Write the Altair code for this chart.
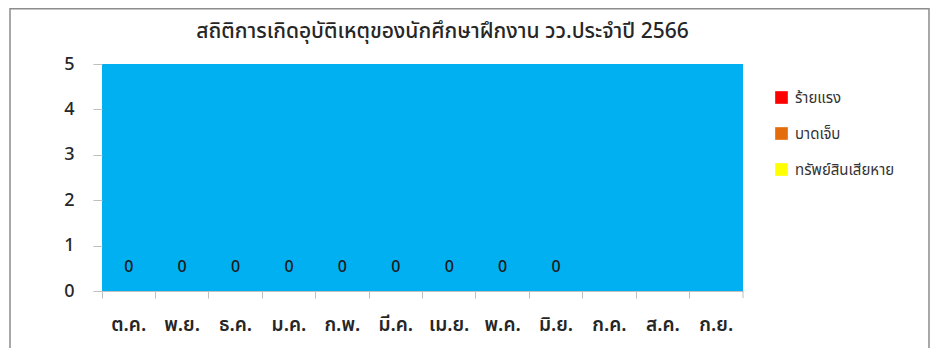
import altair as alt
import pandas as pd

months = ["ต.ค.", "พ.ย.", "ธ.ค.", "ม.ค.", "ก.พ.", "มี.ค.", "เม.ย.", "พ.ค.", "มิ.ย.", "ก.ค.", "ส.ค.", "ก.ย."]
series_names = ["ร้ายแรง", "บาดเจ็บ", "ทรัพย์สินเสียหาย"]
series_colors = ["#FF0000", "#E46C0A", "#FFFF00"]
severe = [0, 0, 0, 0, 0, 0, 0, 0, 0, None, None, None]
injured = [0, 0, 0, 0, 0, 0, 0, 0, 0, None, None, None]
damage = [0, 0, 0, 0, 0, 0, 0, 0, 0, None, None, None]
y_ticks = [0, 1, 2, 3, 4, 5]
title_text = "สถิติการเกิดอุบัติเหตุของนักศึกษาฝึกงาน วว.ประจำปี 2566"

FONT = "Noto Sans Thai, Tahoma, Leelawadee UI, Loma, Garuda, Noto Sans, sans-serif"
W, H = 641, 227

rows = []
for name, vals in zip(series_names, [severe, injured, damage]):
    for m, v in zip(months, vals):
        if v is not None:
            rows.append({"month": m, "series": name, "value": v})
df = pd.DataFrame(rows)

totals = []
for i, m in enumerate(months):
    vals = [s[i] for s in (severe, injured, damage)]
    if all(v is not None for v in vals):
        totals.append({"month": m, "total": sum(vals)})
tdf = pd.DataFrame(totals)

one = alt.Data(values=[{"t": title_text}])

xenc = alt.X("month:N", sort=months, title=None,
             scale=alt.Scale(domain=months, paddingInner=0, paddingOuter=0),
             axis=alt.Axis(labelAngle=0, bandPosition=0, tickSize=7, tickColor="#BFBFBF",
                           domainColor="#BFBFBF", labelPadding=17, labelFontSize=19,
                           labelColor="#262626", labelFontWeight=600, labelFont=FONT))
yscale = alt.Scale(domain=[0, 5], nice=False, zero=True)

frame = alt.Chart(one).mark_rect(fill="white", fillOpacity=0, stroke="#8C8C8C", strokeWidth=1.5).encode(
    x=alt.value(-92), x2=alt.value(827), y=alt.value(-55.25), y2=alt.value(320))

title = alt.Chart(one).mark_text(fontSize=21, font=FONT, color="#262626", baseline="middle",
                                 fontWeight=500).encode(
    x=alt.value(W / 2 + 20), y=alt.value(-32), text="t:N")

bars = alt.Chart(df).mark_bar().encode(
    x=xenc,
    y=alt.Y("sum(value):Q", scale=yscale, title=None,
            axis=alt.Axis(values=y_ticks, grid=False, domain=False, tickSize=9,
                          tickColor="#BFBFBF", labelPadding=19, labelFontSize=18,
                          labelColor="#262626", labelFontWeight=500, labelFont=FONT)),
    color=alt.Color("series:N", scale=alt.Scale(domain=series_names, range=series_colors),
                    sort=series_names,
                    legend=alt.Legend(title=None, orient="none", legendX=672, legendY=26,
                                      symbolType="square", symbolSize=160, symbolStrokeWidth=0,
                                      labelFontSize=15, labelColor="#333333", labelFont=FONT,
                                      rowPadding=20, labelOffset=6, padding=0)),
    order=alt.Order("series:N"),
)

labels = alt.Chart(tdf).mark_text(fontSize=16, color="#1A1A1A", dy=-24, font=FONT,
                                  fontWeight=500).encode(
    x=alt.X("month:N", sort=months),
    y=alt.Y("total:Q", scale=yscale),
    text=alt.Text("total:Q"),
)

endtick = alt.Chart(one).mark_rule(color="#BFBFBF").encode(
    x=alt.value(W), y=alt.value(H), y2=alt.value(H + 7))

chart = alt.layer(frame, title, bars, labels, endtick).properties(
    width=W, height=H,
    autosize=alt.AutoSizeParams(type="none"),
    padding={"left": 94, "top": 56, "right": 922 - 94 - W, "bottom": 340 - 56 - H},
    background="white",
).configure_view(stroke=None, fill="#00B0F0")

chart.save("out.html", embed_options={"renderer": "svg", "actions": False})
